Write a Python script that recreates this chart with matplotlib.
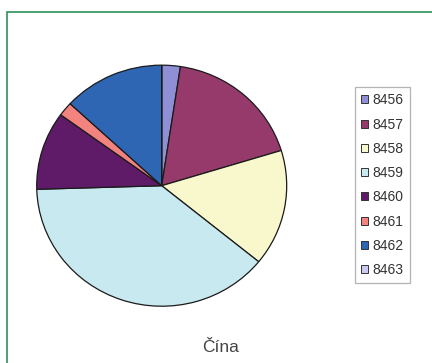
import matplotlib
matplotlib.use("Agg")
import matplotlib.pyplot as plt
from matplotlib.patches import Rectangle

plt.rcParams['font.family'] = ['Liberation Sans', 'DejaVu Sans']

codes = ['8456', '8457', '8458', '8459', '8460', '8461', '8462', '8463']
shares = [2.4, 17.9, 15.6, 38.7, 10.5, 1.9, 13.1, 0.0]
colors = ['#8f8fd6', '#963a6c', '#f9f7cc', '#c9e9f1', '#601b68', '#f2837f', '#2f66b4', '#c9c9f2']
title = 'Čína'

W, H = 432, 363
fig = plt.figure(figsize=(W / 100, H / 100), dpi=100)
fig.patch.set_facecolor('white')

# green frame around the chart area
fig.add_artist(Rectangle((7 / W, -0.05), 1.2, 1 - 12 / H + 0.05,
                         transform=fig.transFigure, fill=False,
                         edgecolor='#3f9a66', linewidth=1.3))

# pie axes (slightly wider than tall)
cx, cy = 161.7, H - 185.7
rx, ry = 125.5, 121.0
ax = fig.add_axes([(cx - rx) / W, (cy - ry) / H, 2 * rx / W, 2 * ry / H])
wedges, _ = ax.pie(shares, colors=colors, startangle=90, counterclock=False,
                   radius=1.0,
                   wedgeprops=dict(edgecolor='#1a1a1a', linewidth=0.9))
ax.set_aspect('auto')
ax.set_xlim(-1.004, 1.004)
ax.set_ylim(-1.004, 1.004)
ax.axis('off')

leg = fig.legend(wedges, codes, loc='upper left',
                 bbox_to_anchor=(355 / W, 1 - 87 / H),
                 fontsize=10, frameon=True, fancybox=False,
                 handlelength=0.5, handleheight=0.5, handletextpad=0.3,
                 labelspacing=0.74, borderpad=0.45, borderaxespad=0)
leg.get_frame().set_edgecolor('#a0a0a0')
leg.get_frame().set_linewidth(0.9)
for t in leg.get_texts():
    t.set_color('#333333')
for h in leg.legend_handles:
    h.set_edgecolor('#333333')
    h.set_linewidth(0.7)

fig.text(221 / W, 1 - 347 / H, title, ha='center', va='center',
         fontsize=12.5, color='#444444')

fig.savefig('out.png', dpi=100)
